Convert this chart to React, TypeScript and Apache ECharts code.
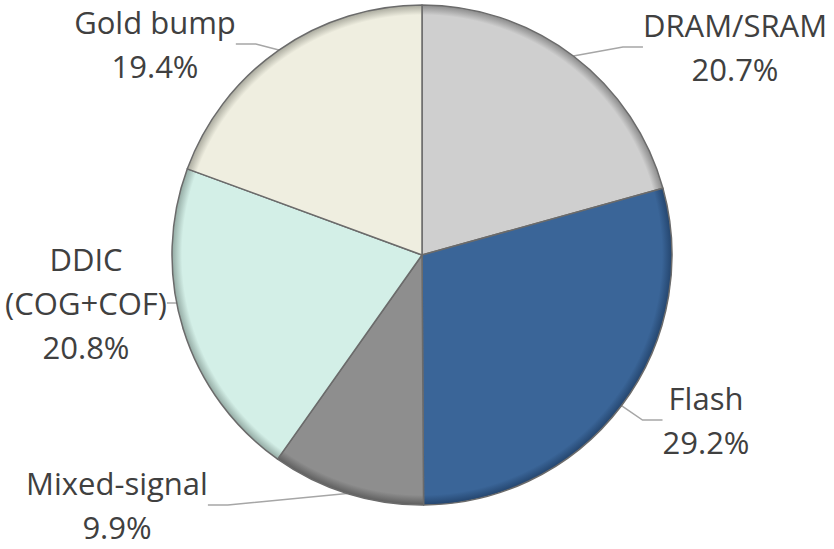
import React, { useEffect, useRef } from "react";
import * as echarts from "echarts";

const categories = ["DRAM/SRAM", "Flash", "Mixed-signal", "DDIC\n(COG+COF)", "Gold bump"];
const shares = [20.7, 29.2, 9.9, 20.8, 19.4];
const baseColors = ["#cfcfcf", "#3a6598", "#8e8e8e", "#d3efe7", "#efeee0"];
const edgeColors = ["#8a8a8a", "#24456e", "#5e5e5e", "#93aaa3", "#a8a89c"];
const labelPos = [
  [735, 47],
  [706, 420],
  [117, 505],
  [86, 303],
  [155, 44],
];

const CX = 422;
const CY = 255;
const R = 250;

export default function App() {
  const ref = useRef<HTMLDivElement>(null);
  useEffect(() => {
    if (!ref.current) return;
    const chart = echarts.init(ref.current, null, { renderer: "svg" });
    const data = categories.map((name, i) => ({
      name,
      value: shares[i],
      itemStyle: {
        color: {
          type: "radial",
          x: CX,
          y: CY,
          r: R,
          global: true,
          colorStops: [
            { offset: 0, color: baseColors[i] },
            { offset: 0.9, color: baseColors[i] },
            { offset: 0.96, color: baseColors[i] },
            { offset: 1, color: edgeColors[i] },
          ],
        },
      },
    }));
    chart.setOption({
      animation: false,
      backgroundColor: "#ffffff",
      series: [
        {
          type: "pie",
          center: [CX, CY],
          radius: [0, R],
          startAngle: 90,
          clockwise: true,
          percentPrecision: 1,
          data,
          itemStyle: {
            borderColor: "#6b6b6b",
            borderWidth: 1.5,
          },
          label: {
            show: true,
            formatter: "{b}\n{d}%",
            fontFamily: "Open Sans",
            fontSize: 31,
            lineHeight: 44,
            color: "#404040",
            align: "center",
            overflow: "none",
          },
          labelLine: {
            show: true,
            length: 10,
            length2: 20,
            lineStyle: { color: "#a6a6a6", width: 1.5 },
          },
          labelLayout: (params: any) => {
            const p = labelPos[params.dataIndex];
            return { x: p[0], y: p[1], align: "center", verticalAlign: "middle" };
          },
          emphasis: { disabled: true },
        },
      ],
    });
    return () => chart.dispose();
  }, []);
  return (
    <div
      ref={ref}
      style={{ position: "fixed", left: 0, top: 0, width: 834, height: 549 }}
    />
  );
}
